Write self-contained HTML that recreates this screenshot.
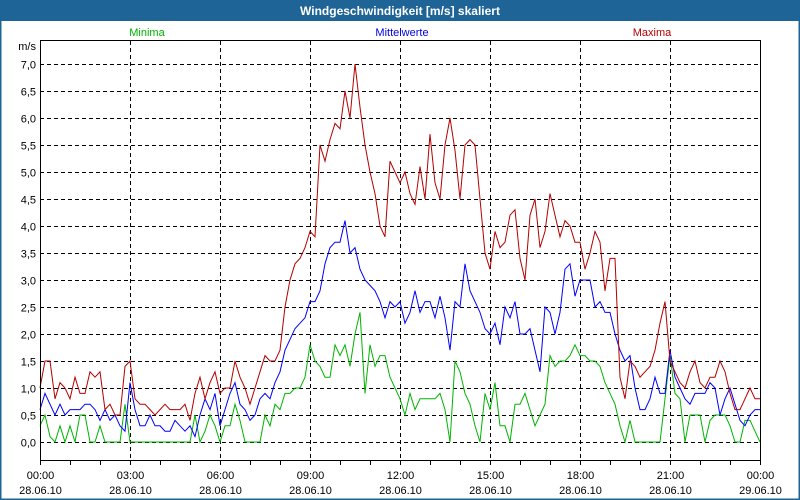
<!DOCTYPE html>
<html><head><meta charset="utf-8">
<style>
body{margin:0;background:#fff;}
svg{display:block;font-family:"Liberation Sans","DejaVu Sans",sans-serif;}
</style></head>
<body>
<svg id="chart" width="800" height="500" viewBox="0 0 800 500" xmlns="http://www.w3.org/2000/svg">
<rect x="0" y="0" width="800" height="500" fill="#fff"/>
<rect x="0" y="0" width="800" height="21" fill="#1e6496"/>
<text x="400" y="15" text-anchor="middle" font-size="12" font-weight="bold" fill="#fff">Windgeschwindigkeit [m/s] skaliert</text>
<rect x="0.5" y="0.5" width="799" height="499" fill="none" stroke="#1e6496" stroke-width="2"/>
<text x="147" y="36" text-anchor="middle" font-size="11" fill="#00b000">Minima</text>
<text x="402" y="36" text-anchor="middle" font-size="11" fill="#0000e0">Mittelwerte</text>
<text x="652" y="36" text-anchor="middle" font-size="11" fill="#b00000">Maxima</text>
<text x="36" y="50" text-anchor="end" font-size="11" fill="#000">m/s</text>
<g id="grid"></g>
<g id="series"></g>
<rect x="40.5" y="40.5" width="720" height="420" fill="none" stroke="#000" stroke-width="1"/>
<g id="axes"></g>
</svg>
<script>
const yTicks=["0,0","0,5","1,0","1,5","2,0","2,5","3,0","3,5","4,0","4,5","5,0","5,5","6,0","6,5","7,0"];
const yTickValues=[0,0.5,1,1.5,2,2.5,3,3.5,4,4.5,5,5.5,6,6.5,7];
const xTickTimes=["00:00","03:00","06:00","09:00","12:00","15:00","18:00","21:00","00:00"];
const xTickDates=["28.06.10","28.06.10","28.06.10","28.06.10","28.06.10","28.06.10","28.06.10","28.06.10","29.06.10"];
const maxima=[1.0,1.5,1.5,0.8,1.1,1.0, 0.8,1.2,0.9,0.9,1.3,1.2, 1.3,0.6,0.7,0.5,0.5,1.4,
1.5,0.8,0.7,0.7,0.6,0.5, 0.6,0.7,0.6,0.6,0.6,0.7, 0.4,0.9,1.2,0.8,1.1,1.3,
0.9,1.0,1.0,1.5,1.2,1.0, 0.7,1.0,1.3,1.6,1.5,1.5, 1.7,2.5,3.0,3.3,3.4,3.6,
3.9,3.8,5.5,5.2,5.6,5.9, 5.8,6.5,6.0,7.0,6.2,5.5, 5.0,4.6,4.0,3.8,5.2,5.0,
4.8,5.0,4.6,4.4,5.1,4.5, 5.7,4.8,4.5,5.5,6.0,5.4, 4.5,5.5,5.6,5.5,4.5,3.5,
3.2,3.9,3.6,3.7,4.2,4.3, 3.4,3.0,4.2,4.5,3.6,3.9, 4.6,4.2,3.8,4.1,4.0,3.7,
3.7,3.2,3.5,3.9,3.7,2.8, 3.4,3.4,1.2,0.8,1.5,1.4, 1.2,1.3,1.4,1.7,2.2,2.6,
1.5,1.3,1.1,1.0,1.3,1.5, 1.1,1.0,1.2,1.2,1.5,1.3, 0.9,0.6,0.6,0.8,1.0,0.8, 0.8];
const mittelwerte=[0.6,0.9,0.7,0.5,0.7,0.5, 0.6,0.6,0.6,0.7,0.7,0.6, 0.4,0.6,0.4,0.5,0.3,0.2,
1.1,0.6,0.3,0.3,0.5,0.3, 0.3,0.2,0.2,0.4,0.3,0.2, 0.3,0.1,0.5,0.8,0.6,0.9,
0.3,0.6,0.9,1.1,0.7,0.6, 0.4,0.5,0.8,0.9,0.8,1.1, 1.3,1.7,1.9,2.1,2.2,2.3,
2.6,2.6,2.8,3.3,3.6,3.7, 3.7,4.1,3.5,3.6,3.2,3.0, 2.9,2.8,2.6,2.3,2.6,2.5,
2.6,2.2,2.4,2.8,2.4,2.6, 2.6,2.3,2.7,2.3,1.7,2.6, 2.5,3.3,2.8,2.6,2.4,2.1,
2.0,2.2,1.8,2.5,2.3,2.6, 2.0,2.0,2.1,1.7,1.3,2.5, 2.4,2.0,2.4,3.2,3.3,2.7,
3.0,3.0,3.0,2.5,2.6,2.4, 2.4,2.0,1.7,1.5,1.6,1.0, 0.6,0.6,0.8,1.2,0.9,0.9,
1.7,1.2,1.0,0.8,0.7,0.9, 0.9,0.9,1.1,1.0,0.5,0.8, 1.0,0.7,0.4,0.3,0.5,0.6, 0.6];
const minima=[0.3,0.5,0.1,0.0,0.3,0.0, 0.3,0.0,0.5,0.5,0.0,0.0, 0.3,0.0,0.0,0.0,0.0,0.7,
0.0,0.0,0.0,0.0,0.0,0.0, 0.0,0.0,0.0,0.0,0.0,0.0, 0.0,0.5,0.0,0.2,0.5,0.3,
0.0,0.3,0.3,0.7,0.4,0.0, 0.0,0.0,0.0,0.5,0.3,0.7, 0.6,0.9,0.9,1.0,1.0,1.2,
1.8,1.5,1.4,1.2,1.2,1.8, 1.6,1.8,1.4,2.0,2.4,0.9, 1.8,1.4,1.6,1.6,1.2,1.0,
0.8,0.5,0.9,0.6,0.8,0.8, 0.8,0.8,0.9,0.6,0.0,1.5, 1.3,0.9,0.7,0.3,0.0,0.9,
0.6,1.1,0.3,0.3,0.0,0.7, 0.7,0.9,0.6,0.3,0.5,0.7, 1.6,1.4,1.5,1.5,1.6,1.8,
1.6,1.6,1.5,1.5,1.4,1.1, 0.9,0.7,0.3,0.0,0.4,0.0, 0.0,0.0,0.0,0.0,0.0,0.8,
1.6,0.9,0.8,0.0,0.5,0.5, 0.5,0.0,0.4,0.5,0.5,0.5, 0.3,0.0,0.0,0.4,0.4,0.2, 0.0];

const NS="http://www.w3.org/2000/svg";
const X0=40,X1=760,Y0=442,PX_PER_UNIT=54;
function yScale(v){return Y0-v*PX_PER_UNIT;}
function xScale(i,n){return X0+(X1-X0)*i/(n-1);}
function mk(tag,attrs,parent){const e=document.createElementNS(NS,tag);for(const k in attrs)e.setAttribute(k,attrs[k]);parent.appendChild(e);return e;}
const grid=document.getElementById('grid'),axes=document.getElementById('axes'),series=document.getElementById('series');
yTickValues.forEach((v,i)=>{
  const y=Math.round(yScale(v))+0.5;
  const l=mk('line',{x1:X0,x2:X1,y1:y,y2:y,stroke:'#000','stroke-dasharray':'4,3'},grid);
  
  
  const t=mk('text',{x:36,y:y+4,'text-anchor':'end','font-size':'11',fill:'#000'},axes);
  t.textContent=yTicks[i];
  
  
});
for(let h=0;h<=24;h++){
  const x=Math.round(X0+h*30)+0.5;
  const tk=mk('line',{x1:x,x2:x,y1:461,y2:465,stroke:'#000'},axes);
  
  
}
xTickTimes.forEach((s,i)=>{
  const x=Math.round(X0+i*90)+0.5;
  if(i>0&&i<xTickTimes.length-1){
    const l=mk('line',{x1:x,x2:x,y1:41,y2:460,stroke:'#000','stroke-dasharray':'4,3'},grid);
    
    
  }
  const t=mk('text',{x:x,y:479,'text-anchor':'middle','font-size':'11',fill:'#000'},axes);
  t.textContent=s;
  
  
  const d=mk('text',{x:x,y:494,'text-anchor':'middle','font-size':'11',fill:'#000'},axes);
  d.textContent=xTickDates[i];
  
  
});
function drawLine(arr,color,name){
  const pts=arr.map((v,i)=>xScale(i,arr.length).toFixed(1)+','+yScale(v).toFixed(1)).join(' ');
  const p=mk('polyline',{points:pts,fill:'none',stroke:color,'stroke-width':'1'},series);
  
  
}
drawLine(minima,'#00b400','minima-line');
drawLine(mittelwerte,'#0000ff','mittelwerte-line');
drawLine(maxima,'#b40000','maxima-line');
</script>
</body></html>
